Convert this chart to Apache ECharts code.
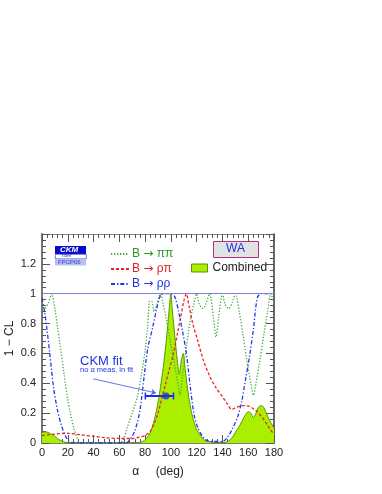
<!DOCTYPE html>
<html>
<head>
<meta charset="utf-8">
<script src="https://cdn.jsdelivr.net/npm/echarts@6/dist/echarts.min.js"></script>
<style>
html,body{margin:0;padding:0;background:#fff;}
#c{width:382px;height:494px;}
</style>
</head>
<body>
<div id="c"></div>
<script>
// ---- data (alpha in degrees, 1 - CL) ----
var pipiAlpha = [0,2,5,7.5,10,12,14,17,20,22,25,28,30,60,63,66,70,74,77,80,82,83.5,85,87,89,92,94,96,100,103,105,107,109,111,115,118,120,122,125,127,130,133,135,137,140,142,145,147.5,150,153,156,159,162,164,166,169,172,175,177.5,180];
var pipiCL    = [0.93,0.9,0.94,1.0,0.9,0.78,0.66,0.47,0.29,0.2,0.09,0.02,0,0,0.02,0.1,0.2,0.31,0.45,0.62,0.78,0.95,0.95,0.88,0.93,1.0,0.93,0.85,0.66,0.52,0.42,0.32,0.45,0.58,0.82,0.94,1.0,0.93,0.9,0.93,1.0,0.84,0.71,0.84,1.0,0.93,0.9,0.94,1.0,0.88,0.72,0.55,0.4,0.32,0.4,0.55,0.72,0.88,1.0,0.93];

var rhopiAlpha = [0,10,20,30,40,50,60,70,76,80,84,87,90,93,96,99,102,105,108,110,112,114,117,121,125,130,135,140,144,147,150,153,157,161,164,167,171,175,178,180];
var rhopiCL    = [0.05,0.06,0.065,0.055,0.045,0.035,0.03,0.03,0.04,0.05,0.08,0.13,0.2,0.3,0.4,0.5,0.6,0.73,0.86,0.95,1.0,0.92,0.8,0.68,0.56,0.45,0.37,0.31,0.26,0.225,0.235,0.245,0.25,0.245,0.23,0.21,0.17,0.12,0.08,0.06];

var rhorhoAlpha = [0,2,4,6,9,12,15,18,21,25,65,68,72,76,79,82,86,89,92,95,100,103,106,109,112,115,118,121,125,130,140,144,148,152,155,158,161,164,167,170,180];
var rhorhoCL    = [0.97,0.88,0.75,0.6,0.37,0.22,0.12,0.05,0.01,0,0,0.02,0.08,0.22,0.43,0.63,0.78,0.9,0.99,1.0,1.0,0.98,0.88,0.75,0.6,0.38,0.19,0.1,0.04,0.01,0.01,0.04,0.1,0.18,0.28,0.43,0.58,0.76,0.97,1.0,1.0];

var combAlpha = [0,3,6,9,12,15,18,21,74,78,81,84,87,90,92,94,96,98,99,100,101,103,105,106.5,108,109.5,111,113,115,117,120,123,126,130,135,140,144,147,150,153,156,158,160,162,164,166,168,170,172,175,178,180];
var combCL    = [0.07,0.075,0.065,0.05,0.03,0.015,0.005,0,0,0.01,0.03,0.07,0.15,0.27,0.38,0.5,0.65,0.83,0.93,1.0,0.9,0.72,0.55,0.46,0.55,0.6,0.5,0.36,0.25,0.17,0.09,0.05,0.02,0.01,0,0,0.01,0.03,0.07,0.11,0.16,0.19,0.21,0.2,0.17,0.2,0.24,0.25,0.24,0.18,0.13,0.1];

var ckmFitAlpha = 96.2, ckmFitCL = 0.315, ckmFitLow = 80.2, ckmFitHigh = 102;
var arrowFrom = [39.7, 0.43], arrowTo = [88.5, 0.335];

var xTicks = [0,20,40,60,80,100,120,140,160,180];
var seriesNames = ['B \u2192 \u03c0\u03c0', 'B \u2192 \u03c1\u03c0', 'B \u2192 \u03c1\u03c1', 'Combined'];

function pairs(xs, ys){ return xs.map(function(x,i){ return [x, ys[i]]; }); }

var FONT = '"Liberation Sans", Arial, Helvetica, sans-serif';
var chart = echarts.init(document.getElementById('c'), null, {renderer:'canvas'});

function tickInside(){ return {show:true, inside:true, length:8, lineStyle:{color:'#555', width:1}}; }
function minorInside(){ return {show:true, splitNumber:5, length:4, lineStyle:{color:'#555', width:1}}; }

function legendFmt(name){
  var parts = name.split(' \u2192 ');
  if (parts.length < 2) return name;
  return parts[0] + ' {arr|\u2192} ' + parts[1];
}

var option = {
  animation:false,
  backgroundColor:'#fff',
  textStyle:{fontFamily:FONT},
  grid:{left:42, right:108, top:234, bottom:51, containLabel:false, outerBoundsMode:'none'},
  xAxis:[{
    type:'value', min:0, max:180, interval:20, position:'bottom',
    axisLine:{show:true, onZero:false, lineStyle:{color:'#555', width:1.5}},
    axisTick:tickInside(), minorTick:minorInside(),
    splitLine:{show:false},
    axisLabel:{color:'#222', fontSize:11, margin:4, fontFamily:FONT,
      formatter:function(v){ return xTicks.indexOf(v) >= 0 ? String(v) : ''; }},
    name:'\u03b1     (deg)', nameLocation:'middle', nameGap:23, nameMoveOverlap:false,
    nameTextStyle:{color:'#222', fontSize:12, fontFamily:FONT}
  },{
    type:'value', min:0, max:180, interval:20, position:'top',
    axisLine:{show:true, onZero:false, lineStyle:{color:'#888', width:1}},
    axisTick:tickInside(), minorTick:minorInside(),
    axisLabel:{show:false}, splitLine:{show:false}
  }],
  yAxis:[{
    type:'value', min:0, max:1.4, interval:0.2, position:'left',
    axisLine:{show:true, onZero:false, lineStyle:{color:'#777', width:2}},
    axisTick:tickInside(), minorTick:minorInside(),
    splitLine:{show:false},
    axisLabel:{color:'#222', fontSize:11, margin:6, fontFamily:FONT, showMaxLabel:false},
    name:'1 \u2212 CL', nameLocation:'middle', nameGap:26, nameRotate:90, nameMoveOverlap:false,
    nameTextStyle:{color:'#222', fontSize:12, fontFamily:FONT}
  },{
    type:'value', min:0, max:1.4, interval:0.2, position:'right',
    axisLine:{show:true, onZero:false, lineStyle:{color:'#333', width:1.5}},
    axisTick:tickInside(), minorTick:minorInside(),
    axisLabel:{show:false}, splitLine:{show:false}
  }],
  legend:[{
    data:[
      {name:seriesNames[0], textStyle:{color:'#229922'}},
      {name:seriesNames[1], textStyle:{color:'#dd2222'}},
      {name:seriesNames[2], textStyle:{color:'#2233dd'}}
    ],
    formatter:legendFmt,
    orient:'vertical', left:110, top:248, padding:0, itemWidth:18, itemHeight:10, itemGap:3,
    itemStyle:{opacity:0},
    textStyle:{fontSize:12, fontFamily:FONT, padding:[0,0,0,-2], rich:{arr:{fontFamily:'"DejaVu Sans"', fontSize:12}}},
    selectedMode:false
  },{
    data:[{name:seriesNames[3], icon:'rect', itemStyle:{color:'#aaee00', borderColor:'#559900', borderWidth:1}}],
    left:191, top:262, padding:0, itemWidth:16, itemHeight:8, itemGap:5,
    textStyle:{fontSize:12, color:'#222', fontFamily:FONT}, selectedMode:false
  }],
  graphic:[
    {type:'rect', left:55, top:246, shape:{width:31, height:8}, style:{fill:'#0a0acc'}},
    {type:'text', left:60, top:246, style:{text:'CKM', fill:'#fff', font:'italic bold 8px '+FONT}},
    {type:'rect', left:55, top:254, shape:{width:31, height:4.5}, style:{fill:'#fff', stroke:'#3344cc', lineWidth:0.7}},
    {type:'text', left:62, top:253.5, style:{text:'fitter', fill:'#3344cc', font:'5px '+FONT}},
    {type:'rect', left:55, top:259, shape:{width:31, height:6.5}, style:{fill:'#b8c0f0'}},
    {type:'text', left:58, top:259.5, style:{text:'FPCP06', fill:'#3344cc', font:'6px '+FONT}},
    {type:'rect', left:213, top:241, shape:{width:45, height:16}, style:{fill:'#e2e2e2', stroke:'#aa3388', lineWidth:1}},
    {type:'text', left:226, top:243, style:{text:'WA', fill:'#2233dd', font:'12px '+FONT}},
    {type:'text', left:80, top:355, style:{text:'CKM fit', fill:'#2233dd', font:'13px '+FONT}},
    {type:'text', left:80, top:365.5, style:{text:'no \u03b1 meas. in fit', fill:'#2233dd', font:'7.5px '+FONT}}
  ],
  series:[
    {
      name:seriesNames[3], type:'line', data:pairs(combAlpha, combCL), showSymbol:false, symbol:'none',
      smooth:0.3, color:'#aaee00',
      lineStyle:{color:'#559900', width:1}, areaStyle:{color:'#aaee00', opacity:1}, z:1,
      markLine:{silent:true, symbol:'none', label:{show:false}, lineStyle:{color:'#8080d8', width:1.2, type:'solid'},
        data:[{yAxis:1}]}
    },
    {
      name:seriesNames[0], type:'line', data:pairs(pipiAlpha, pipiCL), showSymbol:false, symbol:'none',
      smooth:0.3, color:'#44aa44', lineStyle:{color:'#44aa44', width:1.3, type:[1.3,1.7]}, z:3
    },
    {
      name:seriesNames[1], type:'line', data:pairs(rhopiAlpha, rhopiCL), showSymbol:false, symbol:'none',
      smooth:0.3, color:'#ee2222', lineStyle:{color:'#ee2222', width:1.3, type:[3,2]}, z:3
    },
    {
      name:seriesNames[2], type:'line', data:pairs(rhorhoAlpha, rhorhoCL), showSymbol:false, symbol:'none',
      smooth:0.3, color:'#2233ee', lineStyle:{color:'#2233ee', width:1.3, type:[4,2,1.3,2]}, z:3
    },
    {
      name:'CKM fit bar', type:'custom', z:5,
      data:[[ckmFitLow, ckmFitHigh, ckmFitCL]],
      renderItem:function(params, api){
        var a = api.coord([api.value(0), api.value(2)]);
        var b = api.coord([api.value(1), api.value(2)]);
        var st = {stroke:'#1a2ee0', lineWidth:2};
        return {type:'group', children:[
          {type:'line', shape:{x1:a[0], y1:a[1], x2:b[0], y2:b[1]}, style:st},
          {type:'line', shape:{x1:a[0], y1:a[1]-3.5, x2:a[0], y2:a[1]+3.5}, style:{stroke:'#1a2ee0', lineWidth:1.5}},
          {type:'line', shape:{x1:b[0], y1:b[1]-3.5, x2:b[0], y2:b[1]+3.5}, style:{stroke:'#1a2ee0', lineWidth:1.5}}
        ]};
      }
    },
    {
      name:'CKM fit', type:'scatter', z:6, data:[[ckmFitAlpha, ckmFitCL]], symbol:'circle', symbolSize:7,
      itemStyle:{color:'#1a2ee0'},
      markLine:{silent:true, symbol:['none','arrow'], symbolSize:5, label:{show:false},
        lineStyle:{color:'#5566ee', width:0.9, type:'solid'},
        data:[[{coord:arrowFrom}, {coord:arrowTo}]]}
    }
  ]
};
chart.setOption(option);
</script>
</body>
</html>
